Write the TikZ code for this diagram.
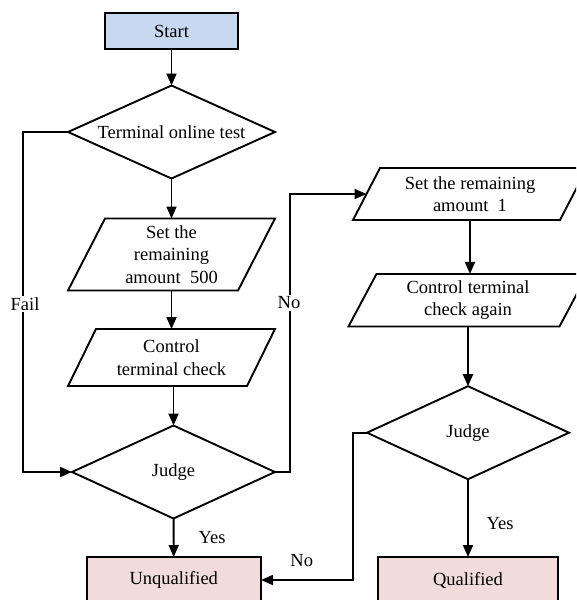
\documentclass[tikz,border=0pt]{standalone}
\usepackage{fontspec}
\setmainfont{Liberation Serif}
\usetikzlibrary{shapes.geometric,arrows.meta}

\definecolor{startblue}{HTML}{C6D9F0}
\definecolor{endpink}{HTML}{F2DCDB}

\tikzset{
  every node/.style={font=\fontsize{18.5}{22.5}\selectfont, inner sep=0pt, outer sep=0pt},
  outline/.style={draw, line width=1.9pt},
  termbox/.style={rectangle, outline},
  decision/.style={diamond, outline, aspect=2.2},
  iobox/.style={rectangle, align=center},
  flow/.style={line width=1.9pt, -{Triangle[length=12pt,width=10pt]}},
  tag/.style={fill=white, inner sep=1.5pt},
}

% outline of a slanted input/output box around a rectangle node
\newcommand\slantbox[2]{%
  \draw[line width=1.9pt, line join=miter]
    ([xshift=#2]#1.north west) -- ([xshift=#2]#1.north east) --
    ([xshift=-#2]#1.south east) -- ([xshift=-#2]#1.south west) -- cycle;}

\begin{document}
\begin{tikzpicture}[x=1pt, y=-1pt]
  \useasboundingbox (0,0) rectangle (576,600);
  \clip (0,0) rectangle (576,600);

  % left column
  \node[termbox, fill=startblue, minimum width=133pt, minimum height=36pt] (start) at (171.5,31) {Start};
  \node[decision, minimum width=207pt, minimum height=93pt] (t) at (171.5,132) {Terminal online test};
  \node[iobox, minimum width=170pt, minimum height=72pt] (p1) at (171.5,254.5) {Set the\\remaining\\amount~~500};
  \node[iobox, minimum width=179pt, minimum height=57pt] (p2) at (171.5,357.5) {Control\\terminal check};
  \node[decision, minimum width=203pt, minimum height=93pt] (j1) at (173.5,472) {Judge};
  \node[termbox, fill=endpink, minimum width=174.5pt, minimum height=46pt] (un) at (173.8,580) {Unqualified};

  % right column
  \node[iobox, minimum width=207pt, minimum height=52pt] (p3) at (470,194) {Set the remaining\\amount~~1};
  \node[iobox, minimum width=211pt, minimum height=52.5pt] (p4) at (468,300.2) {Control terminal\\check again};
  \node[decision, minimum width=202pt, minimum height=93pt] (j2) at (468,432.7) {Judge};
  \node[termbox, fill=endpink, minimum width=180.6pt, minimum height=46pt] (q) at (468,580) {Qualified};

  \slantbox{p1}{18.5pt}
  \slantbox{p2}{14pt}
  \slantbox{p3}{13.5pt}
  \slantbox{p4}{14pt}

  % connectors
  \draw[flow] (start) -- (t);
  \draw[flow] (t) -- (p1);
  \draw[flow] (p1) -- (p2);
  \draw[flow] (p2.south -| j1.north) -- (j1.north);
  \draw[flow] (t.west) -- ++(-45,0) |- (j1.west);
  \draw[flow] (j1.east) -- ++(15,0) |- (p3.west);
  \draw[flow] (p3.south) -- (p3.south |- p4.north);
  \draw[flow] (p4.south) -- (j2.north);
  \draw[flow] (j2.west) -- ++(-14,0) |- (un.east);
  \draw[flow] (j1) -- (un);
  \draw[flow] (j2) -- (q);

  % branch labels
  \node[tag] (fail) at (25,304) {Fail};
  \node[tag] (no1) at (289,303) {No};
  \node (yes1) at (212,538) {Yes};
  \node (yes2) at (500,524) {Yes};
  \node (no2) at (301.7,560.7) {No};
\end{tikzpicture}
\end{document}
